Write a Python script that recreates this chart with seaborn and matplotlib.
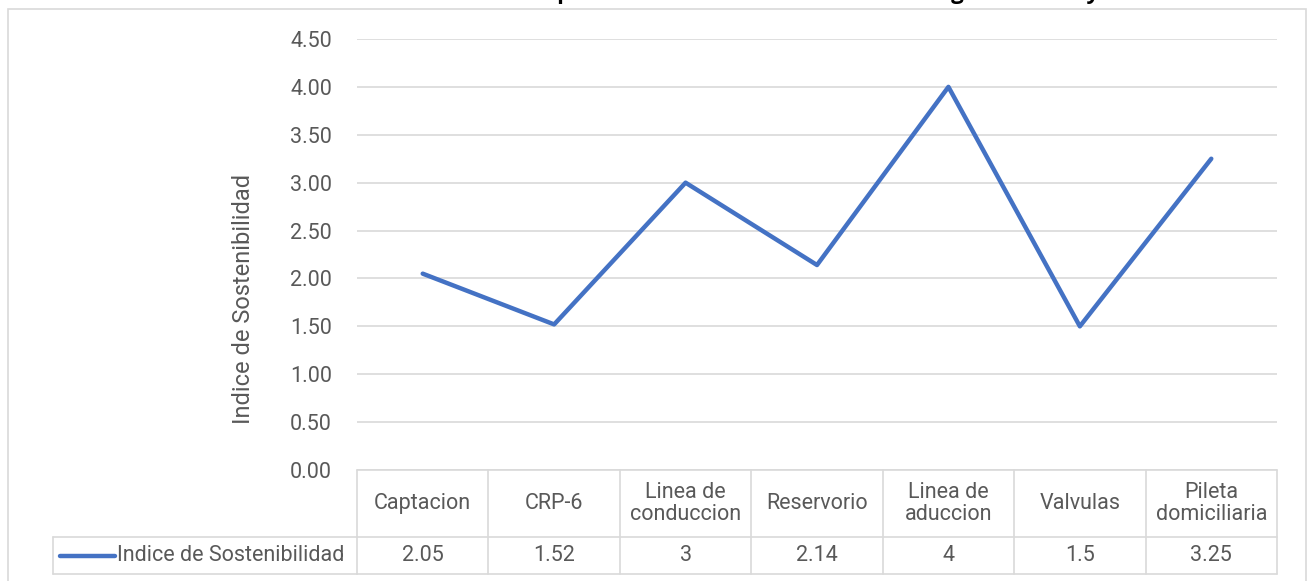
import matplotlib
matplotlib.use("Agg")
import matplotlib.pyplot as plt
import matplotlib.transforms as mtransforms
from matplotlib.lines import Line2D
from matplotlib.patches import Rectangle
import pandas as pd
import seaborn as sns

# --------------------
# Data
# --------------------
categories = ["Captacion", "CRP-6", "Linea de\nconduccion", "Reservorio",
              "Linea de\naduccion", "Valvulas", "Pileta\ndomiciliaria"]
values = [2.05, 1.52, 3, 2.14, 4, 1.5, 3.25]
value_labels = ["2.05", "1.52", "3", "2.14", "4", "1.5", "3.25"]
y_ticks = [0.0, 0.5, 1.0, 1.5, 2.0, 2.5, 3.0, 3.5, 4.0, 4.5]
series_name = "Indice de Sostenibilidad"
title = "Indice de Sostenibilidad por Obras Hidricas del Sistema de Agua Rurales y Saneamiento"

BLUE = "#4472C4"
GREY_TXT = "#595959"
GREY_LINE = "#D9D9D9"
FS = 15.5

sns.set_style("white")
plt.rcParams["font.family"] = ["Roboto", "DejaVu Sans"]

W, H = 1313, 581
fig = plt.figure(figsize=(W / 100, H / 100), dpi=100)


def fx(px):
    return px / W


def fy(py):
    return 1 - py / H


# chart frame
fig.patches.append(Rectangle((fx(8), fy(595)), fx(1306) - fx(8), fy(9) - fy(595),
                             transform=fig.transFigure, fill=False,
                             edgecolor=GREY_LINE, lw=1.2))

ax = fig.add_axes([fx(357), fy(470), fx(1277) - fx(357), fy(39) - fy(470)])
df = pd.DataFrame({"pos": range(len(categories)), "indice": values})
sns.lineplot(data=df, x="pos", y="indice", ax=ax, color=BLUE, linewidth=3.2,
             solid_joinstyle="round", solid_capstyle="round")

ax.set_xlim(-0.5, len(categories) - 0.5)
ax.set_ylim(0, 4.5)
ax.set_yticks(y_ticks)
ax.set_yticklabels([f"{t:.2f}" for t in y_ticks], color=GREY_TXT, fontsize=FS)
ax.set_xticks([])
ax.tick_params(axis="y", length=0, pad=18)
ax.yaxis.grid(True, color=GREY_LINE, lw=1.2)
ax.set_axisbelow(True)
for s in ax.spines.values():
    s.set_visible(False)
ax.set_xlabel("")
ax.set_ylabel("")

fig.text(fx(243), fy(299), series_name, rotation=90, ha="center", va="center",
         color=GREY_TXT, fontsize=17)

# title: the source is cropped so only the descenders show above the frame;
# line it up so the "p" of "por" sits where it does in the source
title_kw = dict(fontsize=16, fontweight="bold", family="Open Sans", color="black")
renderer = fig.canvas.get_renderer()
probe = fig.text(0, 0, title[:title.index(" por") + 2], **title_kw)
w_prefix = probe.get_window_extent(renderer).width
probe.remove()
fig.text(fx(564 - w_prefix + 7), fy(-1), title, ha="left", va="baseline", **title_kw)

# --------------------
# Data table under the axis
# --------------------
tr = mtransforms.blended_transform_factory(ax.transData, fig.transFigure)
n = len(categories)
y_top, y_mid, y_bot = fy(470), fy(537), fy(574)


def hline(y, x0, x1, transform):
    fig.lines.append(Line2D([x0, x1], [y, y], transform=transform,
                            color=GREY_LINE, lw=1.2))


hline(y_top, -0.5, n - 0.5, tr)
hline(y_mid, -0.5, n - 0.5, tr)
hline(y_bot, -0.5, n - 0.5, tr)
hline(y_mid, fx(53), fx(357), fig.transFigure)
hline(y_bot, fx(53), fx(357), fig.transFigure)
fig.lines.append(Line2D([fx(53), fx(53)], [y_mid, y_bot], transform=fig.transFigure,
                        color=GREY_LINE, lw=1.2))
for i in range(n + 1):
    fig.lines.append(Line2D([i - 0.5, i - 0.5], [y_top, y_bot], transform=tr,
                            color=GREY_LINE, lw=1.2))

for i, (cat, lab) in enumerate(zip(categories, value_labels)):
    fig.text(i, (y_top + y_mid) / 2, cat, transform=tr, ha="center", va="center",
             color=GREY_TXT, fontsize=FS, linespacing=1.1)
    fig.text(i, (y_mid + y_bot) / 2, lab, transform=tr, ha="center", va="center",
             color=GREY_TXT, fontsize=FS)

# legend key in the table
y_leg = (y_mid + y_bot) / 2
fig.lines.append(Line2D([fx(60), fx(115)], [y_leg, y_leg], transform=fig.transFigure,
                        color=BLUE, lw=3.2, solid_capstyle="round"))
fig.text(fx(117), y_leg, series_name, ha="left", va="center", color=GREY_TXT, fontsize=FS)

fig.savefig("out.png", dpi=100)
